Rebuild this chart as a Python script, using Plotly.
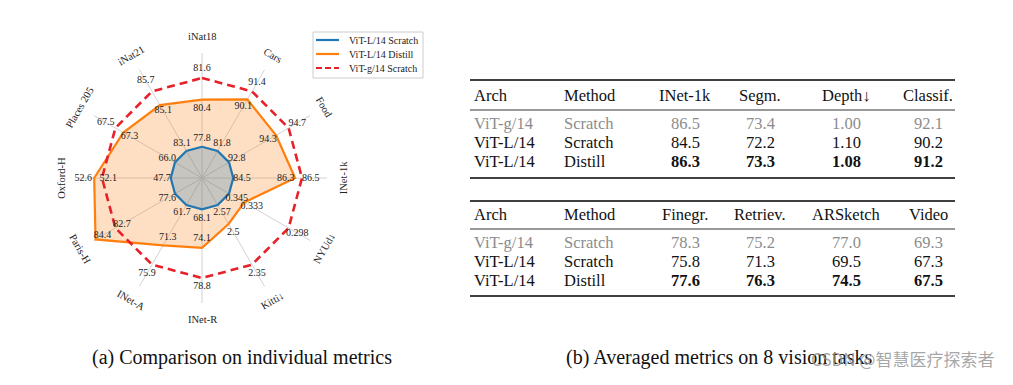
import numpy as np
import plotly.graph_objects as go

# ---------------- data ----------------
metric_names = ["iNat18", "Cars", "Food", "INet-1k", "NYUd↓", "Kitti↓",
                "INet-R", "INet-A", "Paris-H", "Oxford-H", "Places 205", "iNat21"]
vit_l_scratch = [77.8, 81.8, 92.8, 84.5, 0.345, 2.57, 68.1, 61.7, 77.6, 47.7, 66.0, 83.1]
vit_l_distill = [80.4, 90.1, 94.3, 86.3, 0.333, 2.5, 74.1, 71.3, 84.4, 52.6, 67.3, 85.1]
vit_g_scratch = [81.6, 91.4, 94.7, 86.5, 0.298, 2.35, 78.8, 75.9, 82.7, 52.1, 67.5, 85.7]

series_names = ["ViT-L/14 Scratch", "ViT-L/14 Distill", "ViT-g/14 Scratch"]

tab_arch = ["ViT-g/14", "ViT-L/14", "ViT-L/14"]
tab_method = ["Scratch", "Scratch", "Distill"]
tab1_cols = ["INet-1k", "Segm.", "Depth↓", "Classif."]
inet1k = [86.5, 84.5, 86.3]
segm = [73.4, 72.2, 73.3]
depth = [1.00, 1.10, 1.08]
classif = [92.1, 90.2, 91.2]
tab2_cols = ["Finegr.", "Retriev.", "ARSketch", "Video"]
finegr = [78.3, 75.8, 77.6]
retriev = [75.2, 71.3, 76.3]
arsketch = [77.0, 69.5, 74.5]
video = [69.3, 67.3, 67.5]

captions = ["(a) Comparison on individual metrics", "(b) Averaged metrics on 8 vision tasks"]
watermark = "CSDN @智慧医疗探索者"

# ---------------- styles / positions ----------------
W, H = 1013, 385
CX, CY, RPX = 202, 178, 125          # radar centre (px) and unit radius (px)
SERIF = "Liberation Serif"
colors = ["#1f77b4", "#ff7f0e", "#e8202a"]
scratch_label_r = [0.32] * 12
distill_label_r = [0.56, 0.66, 0.61, 0.67, 0.46, 0.50, 0.48, 0.55, 0.92, 0.95, 0.67, 0.62]
g_label_r = [0.88, 0.88, 0.88, 0.87, 0.88, 0.88, 0.87, 0.88, 0.74, 0.75, 0.89, 0.90]
name_r = 1.13

n = len(metric_names)
theta = np.deg2rad(90 - 30 * np.arange(n))

s = np.array(vit_l_scratch)
g = np.array(vit_g_scratch)


def norm(vals):
    v = np.array(vals)
    return 0.25 + 0.55 * (v - s) / (g - s)


def xy(r, th=theta):
    r = np.asarray(r, dtype=float)
    return r * np.cos(th), r * np.sin(th)


fig = go.Figure()

# spokes
sx, sy = [], []
for t in theta:
    sx += [0, np.cos(t), None]
    sy += [0, np.sin(t), None]
fig.add_trace(go.Scatter(x=sx, y=sy, mode="lines", line=dict(color="#d2d2d2", width=1),
                         hoverinfo="skip", showlegend=False))

# polygons (distill drawn first so the scratch outline stays on top)
series_vals = [vit_l_scratch, vit_l_distill, vit_g_scratch]
fills = ["rgba(31,119,180,0.25)", "rgba(255,127,14,0.25)", None]
dashes = ["solid", "solid", "8px,5px"]
widths = [2.2, 2.2, 2.6]
for k in [1, 0, 2]:
    x, y = xy(norm(series_vals[k]))
    x = np.append(x, x[0]); y = np.append(y, y[0])
    fig.add_trace(go.Scatter(
        x=x, y=y, mode="lines", name=series_names[k],
        line=dict(color=colors[k], width=widths[k], dash=dashes[k]),
        fill="toself" if fills[k] else None, fillcolor=fills[k],
        hoverinfo="skip", showlegend=False))

# value labels
for vals, lr in zip(series_vals, [scratch_label_r, distill_label_r, g_label_r]):
    x, y = xy(lr)
    fig.add_trace(go.Scatter(x=x, y=y, mode="text", text=[str(v) for v in vals],
                             textfont=dict(family=SERIF, size=10, color="#222222"),
                             hoverinfo="skip", showlegend=False))

# metric names (rotated, tangential)
annotations = []
for nm, t in zip(metric_names, theta):
    deg = np.rad2deg(t)
    ang = ((90 - deg) + 90) % 180 - 90
    annotations.append(dict(x=name_r * np.cos(t), y=name_r * np.sin(t), xref="x", yref="y",
                            text=nm, showarrow=False, textangle=ang,
                            xanchor="center", yanchor="middle",
                            font=dict(family=SERIF, size=10.5, color="#222222")))


def px(xp):
    return xp / W


def py(yp):
    return 1 - yp / H


shapes = []


def ann(xp, yp, text, size, color="#111111", xanchor="center", family=SERIF):
    annotations.append(dict(x=px(xp), y=py(yp), xref="paper", yref="paper", text=text,
                            showarrow=False, xanchor=xanchor, yanchor="middle",
                            font=dict(family=family, size=size, color=color)))


# legend box (manual, to match the compact reference legend)
shapes.append(dict(type="rect", xref="paper", yref="paper", x0=px(313), x1=px(423),
                   y0=py(78), y1=py(32), line=dict(color="#cccccc", width=1),
                   fillcolor="white"))
for k, yl in zip(range(3), [40, 54, 68]):
    shapes.append(dict(type="line", xref="paper", yref="paper", x0=px(316), x1=px(339),
                       y0=py(yl), y1=py(yl),
                       line=dict(color=colors[k], width=2.2,
                                 dash="solid" if k < 2 else "6px,3px")))
    ann(347, yl, series_names[k], 10, "#222222", "left")

# ---------------- tables ----------------
TX0, TX1 = 470, 955
col_left = [472, 562]
col_center = [685, 760, 846, 928]
FS = 16.5


def add_table(top, mid, bottom, header_y, row_ys, headers, cols, fmts):
    for yy, lw in [(top, 1.4), (mid, 0.8), (bottom, 1.4)]:
        shapes.append(dict(type="line", xref="paper", yref="paper", x0=px(TX0), x1=px(TX1),
                           y0=py(yy), y1=py(yy), line=dict(color="black", width=lw)))
    for txt, xl in zip(["Arch", "Method"], col_left):
        ann(xl, header_y, txt, FS, "#111111", "left")
    for txt, xc in zip(headers, col_center):
        ann(xc, header_y, txt, FS, "#111111", "center")
    for i, yr in enumerate(row_ys):
        colr = "#8c8c8c" if i == 0 else "#111111"
        bold = i == 2
        for txt, xl in zip([tab_arch[i], tab_method[i]], col_left):
            ann(xl, yr, txt, FS, colr, "left")
        for c, f, xc in zip(cols, fmts, col_center):
            t = f.format(c[i])
            if bold:
                t = "<b>" + t + "</b>"
            ann(xc, yr, t, FS, colr, "center")


add_table(80, 110, 178, 96, [123, 142, 162], tab1_cols,
          [inet1k, segm, depth, classif], ["{:.1f}", "{:.1f}", "{:.2f}", "{:.1f}"])
add_table(201, 229, 296, 214, [242, 261, 280], tab2_cols,
          [finegr, retriev, arsketch, video], ["{:.1f}", "{:.1f}", "{:.1f}", "{:.1f}"])

# captions
ann(242, 357, captions[0], 20)
ann(719, 357, captions[1], 20)
ann(996, 358, watermark, 17, "rgba(150,150,150,0.85)", "right", "Noto Sans CJK SC")

xr = CX / RPX
fig.update_layout(
    width=W, height=H, margin=dict(l=0, r=0, t=0, b=0),
    paper_bgcolor="white", plot_bgcolor="white",
    xaxis=dict(domain=[0, 2 * CX / W], range=[-xr, xr], visible=False, fixedrange=True),
    yaxis=dict(domain=[0, 1], range=[-(H - CY) / RPX, CY / RPX], visible=False, fixedrange=True),
    showlegend=False,
    annotations=annotations, shapes=shapes,
)

fig.write_html("out.html", config={"displayModeBar": False},
               post_script="document.body.style.margin='0';")
